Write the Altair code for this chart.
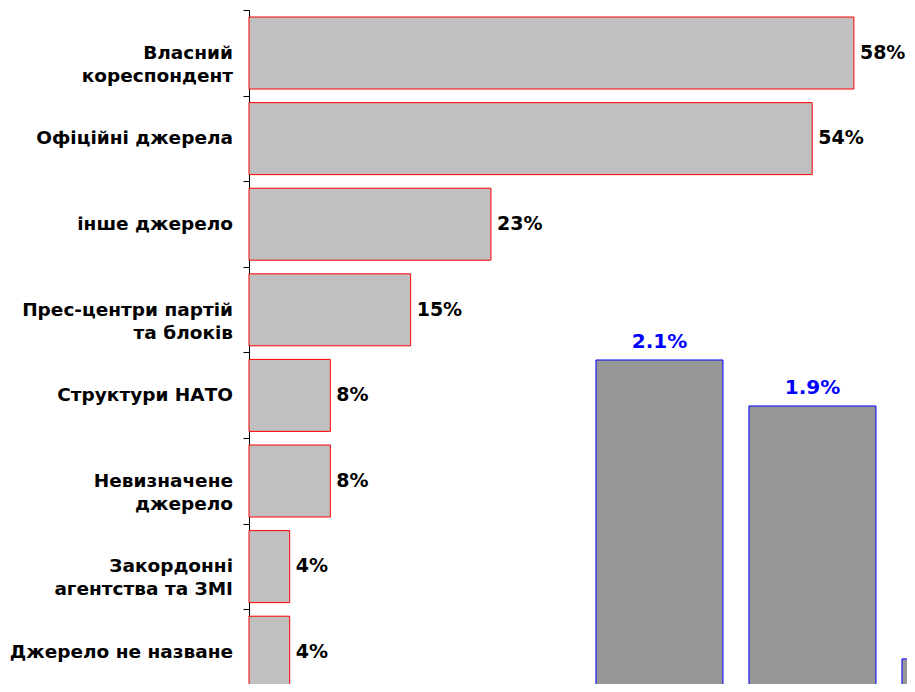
import altair as alt
import pandas as pd

categories = [
    "Власний\nкореспондент",
    "Офіційні джерела",
    "інше джерело",
    "Прес-центри партій\nта блоків",
    "Структури НАТО",
    "Невизначене\nджерело",
    "Закордонні\nагентства та ЗМІ",
    "Джерело не назване",
]
shares = [58, 54, 23.2, 15.5, 7.8, 7.8, 3.9, 3.9]
share_labels = ["58%", "54%", "23%", "15%", "8%", "8%", "4%", "4%"]

col_values = [2.1, 1.9, 0.8]
col_labels = ["2.1%", "1.9%", ""]

df_h = pd.DataFrame({"cat": categories, "v": shares, "lab": share_labels,
                     "i": list(range(len(categories)))})
df_v = pd.DataFrame({"v": col_values, "lab": col_labels,
                     "j": list(range(len(col_values)))})

W, H = 658, 674
FONT = "DejaVu Sans"

xh = alt.Scale(domain=[0, 63.09], nice=False, zero=False)
yh = alt.Scale(domain=[0, 7.874], nice=False, zero=False, reverse=True)
xv = alt.Scale(domain=[-2.683, 1.618], nice=False, zero=False)
yv = alt.Scale(domain=[0.691, 3.622], nice=False, zero=False)

base_h = alt.Chart(df_h).transform_calculate(
    y0="datum.i + 0.082", y1="datum.i + 0.923", yc="datum.i + 0.5", x0="0"
)

hbars = base_h.mark_rect(fill="#C0C0C0", stroke="#FF0000", strokeWidth=1).encode(
    x=alt.X("x0:Q", scale=xh, axis=None),
    x2="v:Q",
    y=alt.Y("y0:Q", scale=yh,
            axis=alt.Axis(values=list(range(8)), labels=False, tickSize=6,
                          grid=False, title=None, domainColor="#000000",
                          tickColor="#000000", domainWidth=1, tickWidth=1)),
    y2="y1:Q",
)

hvals = base_h.mark_text(align="left", baseline="middle", dx=6, font=FONT,
                         fontWeight="bold", fontSize=19, color="#000000").encode(
    x=alt.X("v:Q", scale=xh, axis=None),
    y=alt.Y("yc:Q", scale=yh, axis=None),
    text="lab:N",
)

hcats = base_h.mark_text(align="right", baseline="middle", font=FONT,
                         fontWeight="bold", fontSize=18.5, lineHeight=23,
                         lineBreak="\n", color="#000000").encode(
    x=alt.value(-16),
    y=alt.Y("yc:Q", scale=yh, axis=None),
    text="cat:N",
)

base_v = alt.Chart(df_v).transform_calculate(
    xa="datum.j - 0.415", xb="datum.j + 0.415", z="0"
)

vbars = base_v.mark_rect(fill="#969696", stroke="#0000FF", strokeWidth=1,
                         clip=True).encode(
    x=alt.X("xa:Q", scale=xv, axis=None),
    x2="xb:Q",
    y=alt.Y("z:Q", scale=yv, axis=None),
    y2="v:Q",
)

vvals = base_v.mark_text(align="center", baseline="alphabetic", dy=-12, font=FONT,
                         fontWeight="bold", fontSize=20, color="#0000FF").encode(
    x=alt.X("j:Q", scale=xv, axis=None),
    y=alt.Y("v:Q", scale=yv, axis=None),
    text="lab:N",
)

chart = alt.layer(hbars, hvals, hcats, vbars, vvals).resolve_scale(
    x="independent", y="independent"
).properties(
    width=W, height=H,
    autosize=alt.AutoSizeParams(type="none"),
    padding={"left": 241, "top": 2, "right": 0, "bottom": 0},
    background="white",
).configure_view(stroke=None)

chart.save("out.html", embed_options={"renderer": "svg", "actions": False})
